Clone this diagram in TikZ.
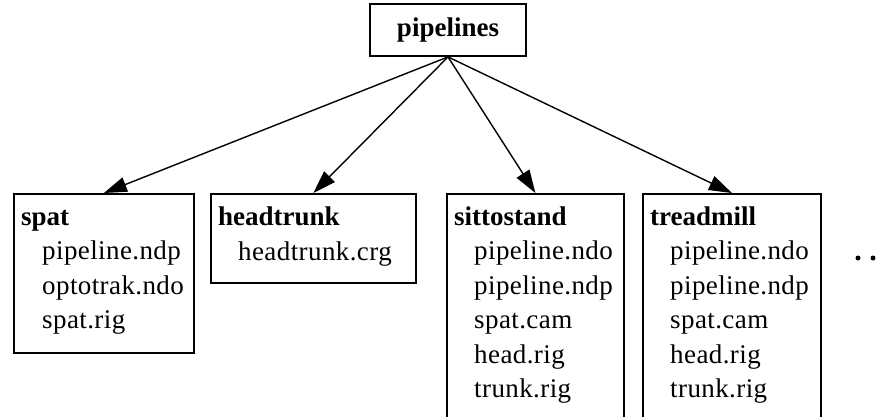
\documentclass[tikz,border=0pt]{standalone}
\usepackage{fontspec}
\setmainfont{Liberation Serif}
\newfontfamily\spacedserif[LetterSpace=1.5]{Liberation Serif}
\usetikzlibrary{arrows.meta}
\begin{document}
\begin{tikzpicture}[x=1pt,y=-1pt,
  box/.style={draw, line width=1.8pt, inner sep=0pt, anchor=north west},
  title/.style={font=\fontsize{27}{30}\selectfont\bfseries, anchor=base west, inner sep=0pt},
  entry/.style={font=\spacedserif\fontsize{27}{30}\selectfont, anchor=base west, inner sep=0pt},
  link/.style={line width=1.4pt, -{Triangle[length=23pt,width=15pt]}},
  dot/.style={circle, fill, inner sep=0pt, minimum size=5pt}]

\useasboundingbox (0,0) rectangle (887,416);
\fill[white] (0,0) rectangle (887,416);
\clip (0,0) rectangle (887,416);

% root directory
\node[box, anchor=center, minimum width=156pt, minimum height=52pt,
      font=\fontsize{27}{30}\selectfont\bfseries] (pipelines) at (448,30) {pipelines};

% spat
\node[box, minimum width=180pt, minimum height=159pt] (spat) at (13,193) {};
\node[title] (spat-t) at (21,225) {spat};
\foreach \txt [count=\i] in {pipeline.ndp, optotrak.ndo, spat.rig}
  \node[entry] (spat-\i) at (42,{225+34.5*\i}) {\txt};

% headtrunk
\node[box, minimum width=205pt, minimum height=89pt] (headtrunk) at (210,193) {};
\node[title] (headtrunk-t) at (218,225) {headtrunk};
\node[entry] (headtrunk-1) at (238,260) {headtrunk.crg};

% sittostand
\node[box, minimum width=177pt, minimum height=235pt] (sittostand) at (446,193) {};
\node[title] (sittostand-t) at (454,225) {sittostand};
\foreach \txt [count=\i] in {pipeline.ndo, pipeline.ndp, spat.cam, head.rig, trunk.rig}
  \node[entry] (sittostand-\i) at (474,{225+34.5*\i}) {\txt};

% treadmill
\node[box, minimum width=178pt, minimum height=235pt] (treadmill) at (642,193) {};
\node[title] (treadmill-t) at (650,225) {treadmill};
\foreach \txt [count=\i] in {pipeline.ndo, pipeline.ndp, spat.cam, head.rig, trunk.rig}
  \node[entry] (treadmill-\i) at (670,{225+34.5*\i}) {\txt};

% more directories follow
\node[dot] (more-1) at (858,258) {};
\node[dot] (more-2) at (873,258) {};

% links from the root
\draw[link] (pipelines.south) -- (spat.north);
\draw[link] (pipelines.south) -- (headtrunk.north);
\draw[link] (pipelines.south) -- (sittostand.north);
\draw[link] (pipelines.south) -- (treadmill.north);
\end{tikzpicture}
\end{document}
